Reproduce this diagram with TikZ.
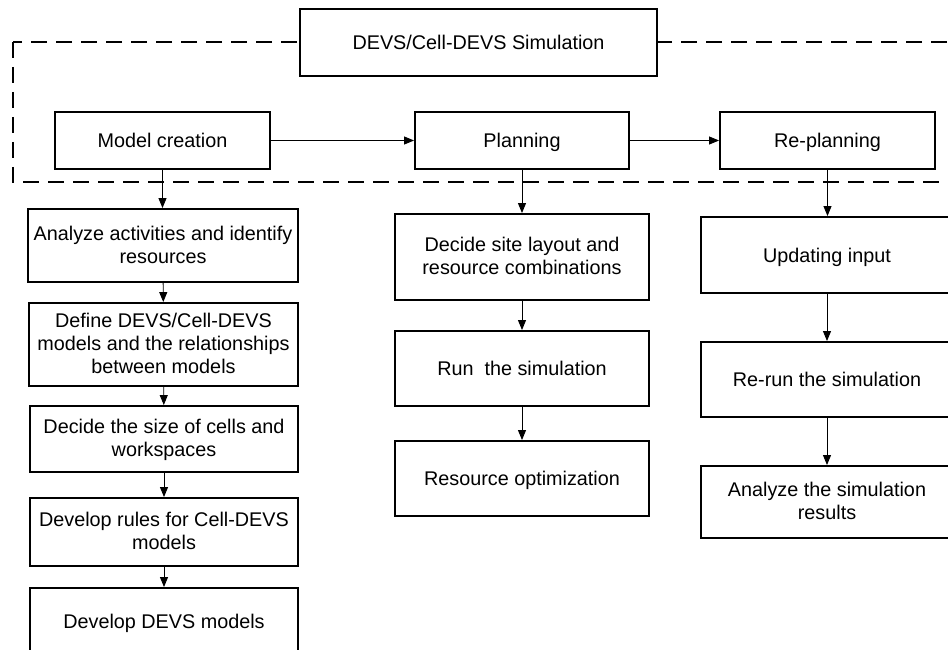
\documentclass[tikz,border=0pt]{standalone}
\usepackage{fontspec}
\setmainfont{Liberation Sans}
\usetikzlibrary{arrows.meta}
\begin{document}
\begin{tikzpicture}[x=1pt,y=-1pt,
  box/.style={draw,line width=1.9pt,fill=white,align=center,inner sep=0pt,
    font=\fontsize{19.8}{22.7}\selectfont,text depth=2pt,
    execute at begin node={\rule{0pt}{16pt}}},
  conn/.style={line width=0.9pt,-{Triangle[length=10pt,width=8pt]}},
  frame/.style={line width=1.9pt,dash pattern=on 16pt off 9pt}]
\useasboundingbox (0,0) rectangle (948,650);
% dashed frame
\coordinate (fa) at (13,42);
\coordinate (fb) at (965,182);
\draw[frame] (fa) rectangle (fb);
% top
\node[box,minimum width=357pt,minimum height=67pt] (top) at (478.5,42.5) {DEVS/Cell-DEVS Simulation};
\node[box,minimum width=215pt,minimum height=57pt] (mc) at (162.5,140.5) {Model creation};
\node[box,minimum width=214pt,minimum height=57pt] (pl) at (522,140.5) {Planning};
\node[box,minimum width=215pt,minimum height=57pt] (rp) at (827.5,140.5) {Re-planning};
% left column
\node[box,minimum width=270pt,minimum height=73pt] (l1) at (163,245.5) {Analyze activities and identify\\resources};
\node[box,minimum width=269pt,minimum height=83pt] (l2) at (163.5,344.5) {Define DEVS/Cell-DEVS\\models and the relationships\\between models};
\node[box,minimum width=268pt,minimum height=66pt] (l3) at (164,439) {Decide the size of cells and\\workspaces};
\node[box,minimum width=268pt,minimum height=68pt] (l4) at (164,532) {Develop rules for Cell-DEVS\\models};
\node[box,minimum width=268pt,minimum height=66pt] (l5) at (164,621) {Develop DEVS models};
% middle column
\node[box,minimum width=254pt,minimum height=86pt] (m1) at (522,257) {Decide site layout and\\resource combinations};
\node[box,minimum width=254pt,minimum height=75pt] (m2) at (522,368.5) {Run\ \ the simulation};
\node[box,minimum width=254pt,minimum height=75pt] (m3) at (522,478.5) {Resource optimization};
% right column
\node[box,minimum width=252pt,minimum height=76pt] (r1) at (827,255) {Updating input};
\node[box,minimum width=252pt,minimum height=75pt] (r2) at (827,379.5) {Re-run the simulation};
\node[box,minimum width=252pt,minimum height=72pt] (r3) at (827,502) {Analyze the simulation\\results};
% connectors
\draw[conn] (mc) -- (pl);
\draw[conn] (pl) -- (rp);
\draw[conn] (mc.south) -- (l1.north -| mc.south);
\draw[conn] (l1) -- (l2);
\draw[conn] (l2) -- (l3);
\draw[conn] (l3) -- (l4);
\draw[conn] (l4) -- (l5);
\draw[conn] (pl) -- (m1);
\draw[conn] (m1) -- (m2);
\draw[conn] (m2) -- (m3);
\draw[conn] (rp.south) -- (r1.north -| rp.south);
\draw[conn] (r1) -- (r2);
\draw[conn] (r2) -- (r3);
\end{tikzpicture}
\end{document}
